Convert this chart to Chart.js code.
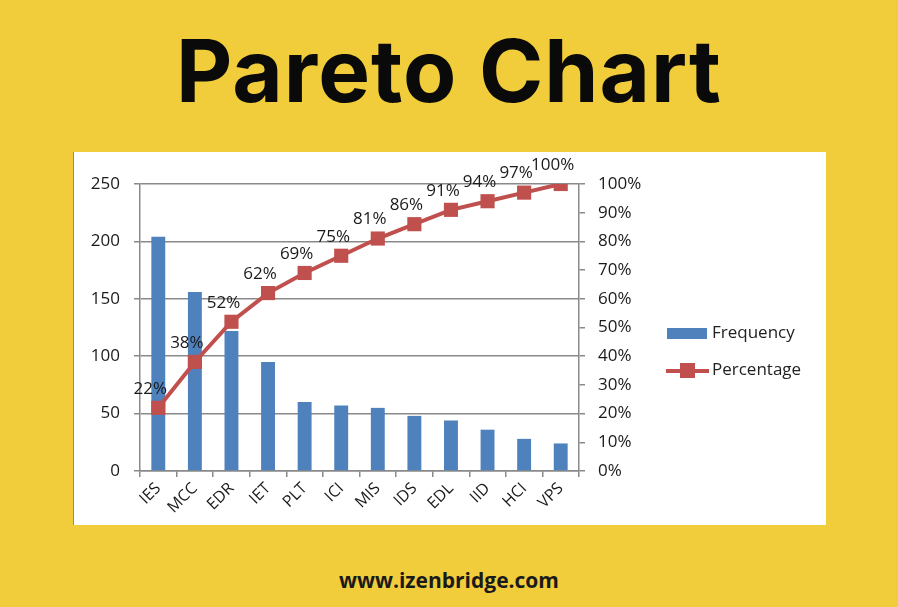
<!DOCTYPE html>
<html>
<head>
<meta charset="utf-8">
<script src="https://cdn.jsdelivr.net/npm/chart.js@4"></script>
<style>
  html, body { margin: 0; padding: 0; }
  body { width: 898px; height: 607px; background: #F1CD3C; position: relative; overflow: hidden; font-family: "Open Sans", sans-serif; }
  #titulo { position: absolute; left: 0; width: 898px; top: 18px; text-align: center; font-family: Inter, sans-serif; font-weight: 700; font-size: 87px; letter-spacing: 1px; color: #0a0a0a; }
  #caixa { position: absolute; left: 74px; top: 152px; width: 752px; height: 373px; background: #fff; box-shadow: -1px 0 0 #9a8a6a; }
  #grafico { position: absolute; left: 0; top: 0; }
  .item { position: absolute; white-space: nowrap; font-size: 17px; color: #222; }
  .caixaAzul { position: absolute; width: 40px; height: 11px; background: #4F81BD; }
  .linhaVermelha { position: absolute; width: 43px; height: 4px; background: #C0504D; }
  .quadrado { position: absolute; width: 15px; height: 15px; background: #C0504D; }
  #rodape { position: absolute; left: 0; width: 898px; top: 566px; text-align: center; font-weight: 700; font-size: 21px; color: #1a1a1a; }
</style>
</head>
<body>
<div id="titulo">Pareto Chart</div>
<div id="caixa">
  <canvas id="grafico" width="752" height="373"></canvas>
  <div class="caixaAzul" style="left:593px;top:176px"></div>
  <div class="item" style="left:638px;top:168px">Frequency</div>
  <div class="linhaVermelha" style="left:592px;top:217px"></div>
  <div class="quadrado" style="left:606px;top:211px"></div>
  <div class="item" style="left:638px;top:205px">Percentage</div>
</div>
<div id="rodape">www.izenbridge.com</div>
<script>
const categorias = ['IES', 'MCC', 'EDR', 'IET', 'PLT', 'ICI', 'MIS', 'IDS', 'EDL', 'IID', 'HCI', 'VPS'];
const frequencias = [204, 156, 122, 95, 60, 57, 55, 48, 44, 36, 28, 24];
const percentuais = [22, 38, 52, 62, 69, 75, 81, 86, 91, 94, 97, 100];
const ticksFreq = [0, 50, 100, 150, 200, 250];

const corBarra = '#4F81BD';
const corLinha = '#C0504D';
const corGrade = '#8a8a8a';
const fonteEixo = { family: '"Open Sans", sans-serif', size: 17 };

// rótulos de porcentagem em cima dos pontos
const rotulosPct = {
    id: 'rotulosPct',
    afterDatasetsDraw(chart) {
        const ctx = chart.ctx;
        const meta = chart.getDatasetMeta(0);
        ctx.save();
        ctx.font = '17px "Open Sans", sans-serif';
        ctx.fillStyle = '#1a1a1a';
        ctx.textAlign = 'center';
        ctx.textBaseline = 'middle';
        meta.data.forEach((pt, i) => {
            ctx.fillText(percentuais[i] + '%', pt.x - 8, pt.y - 19);
        });
        ctx.restore();
    }
};

const ctx = document.getElementById('grafico').getContext('2d');
new Chart(ctx, {
    data: {
        labels: categorias,
        datasets: [{
            type: 'line',
            label: 'Percentage',
            data: percentuais,
            yAxisID: 'y1',
            order: 0,
            borderColor: corLinha,
            backgroundColor: corLinha,
            borderWidth: 4,
            pointStyle: 'rect',
            pointRadius: 10,
            pointBorderWidth: 0,
            tension: 0
        }, {
            type: 'bar',
            label: 'Frequency',
            data: frequencias,
            yAxisID: 'y',
            order: 1,
            backgroundColor: corBarra,
            barPercentage: 0.38,
            categoryPercentage: 1
        }]
    },
    options: {
        responsive: false,
        animation: false,
        layout: { padding: { top: 32, left: 0, right: 172, bottom: 0 } },
        plugins: {
            legend: { display: false },
            tooltip: { enabled: false }
        },
        scales: {
            x: {
                offset: true,
                grid: { display: true, drawOnChartArea: false, offset: true, color: corGrade, lineWidth: 1.5, tickLength: 6 },
                border: { color: corGrade, width: 1.5 },
                ticks: { font: { family: '"Open Sans", sans-serif', size: 16 }, color: '#1a1a1a', minRotation: 45, maxRotation: 45, padding: 2 },
                afterFit(s) { s.height = 54; }
            },
            y: {
                position: 'left',
                min: 0,
                max: 250,
                afterBuildTicks(s) { s.ticks = ticksFreq.map(v => ({ value: v })); },
                grid: { color: corGrade, lineWidth: 1.5, tickLength: 6 },
                border: { color: corGrade, width: 1.5 },
                ticks: { font: fonteEixo, color: '#1a1a1a', padding: 14 },
                afterFit(s) { s.width = 66; }
            },
            y1: {
                position: 'right',
                min: 0,
                max: 100,
                grid: { drawOnChartArea: false, color: corGrade, lineWidth: 1.5, tickLength: 6 },
                border: { color: corGrade, width: 1.5 },
                ticks: { stepSize: 10, font: fonteEixo, color: '#1a1a1a', padding: 13, callback: v => v + '%' },
                afterFit(s) { s.width = 75; }
            }
        }
    },
    plugins: [rotulosPct]
});
</script>
</body>
</html>
